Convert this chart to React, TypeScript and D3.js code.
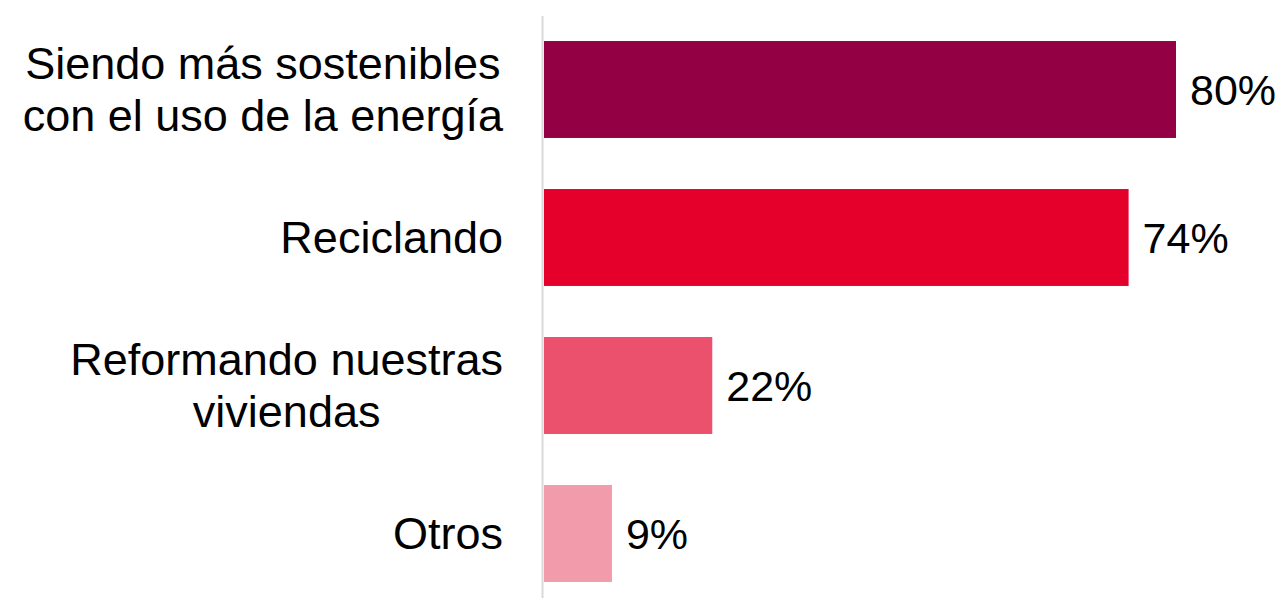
import React from "react";
import * as d3 from "d3";

const categories: string[][] = [
  ["Siendo más sostenibles", "con el uso de la energía"],
  ["Reciclando"],
  ["Reformando nuestras", "viviendas"],
  ["Otros"],
];
const values: number[] = [80, 74, 21.3, 8.6];
const valueLabels: string[] = ["80%", "74%", "22%", "9%"];
const colors: string[] = ["#930044", "#E4002B", "#EB506C", "#F29BAB"];

const W = 1285;
const H = 598;

export default function App() {
  const x = d3.scaleLinear().domain([0, 80]).range([544, 1176]);
  const y = d3
    .scaleBand<number>()
    .domain(d3.range(categories.length))
    .range([15.5, 607.5])
    .paddingInner(0.345)
    .paddingOuter(0.1725);
  const labelRight = 503;
  const lineH = 52;
  const font = "'Liberation Sans', Arial, sans-serif";

  return (
    <svg
      width={W}
      height={H}
      style={{ position: "absolute", left: 0, top: 0, background: "#fff" }}
      fontFamily={font}
    >
      {categories.map((lines, i) => {
        const cy = (y(i) as number) + y.bandwidth() / 2;
        const widths = lines.map((l) => l.length);
        return (
          <g key={"c" + i}>
            <rect
              x={x(0)}
              y={y(i)}
              width={x(values[i]) - x(0)}
              height={y.bandwidth()}
              fill={colors[i]}
            />
            <text
              x={x(values[i]) + 14}
              y={cy}
              dy="0.35em"
              fontSize={43}
              fill="#000"
            >
              {valueLabels[i]}
            </text>
            <text
              x={labelRight}
              y={cy}
              fontSize={45}
              fill="#000"
              textAnchor="end"
              ref={(el) => {
                if (!el || lines.length < 2) return;
                // center-align multi-line labels within a right-aligned block
                const spans = Array.from(el.querySelectorAll("tspan")) as SVGTSpanElement[];
                const ws = spans.map((s) => s.getComputedTextLength());
                const maxW = Math.max(...ws);
                spans.forEach((s, k) => {
                  s.setAttribute("x", String(labelRight - (maxW - ws[k]) / 2));
                });
              }}
            >
              {lines.map((l, k) => (
                <tspan
                  key={k}
                  x={labelRight}
                  y={cy + (k - (lines.length - 1) / 2) * lineH}
                  dy="0.35em"
                >
                  {l}
                </tspan>
              ))}
            </text>
          </g>
        );
      })}
      <line
        x1={542.5}
        x2={542.5}
        y1={16}
        y2={H}
        stroke="#d9d9d9"
        strokeWidth={2}
      />
    </svg>
  );
}
